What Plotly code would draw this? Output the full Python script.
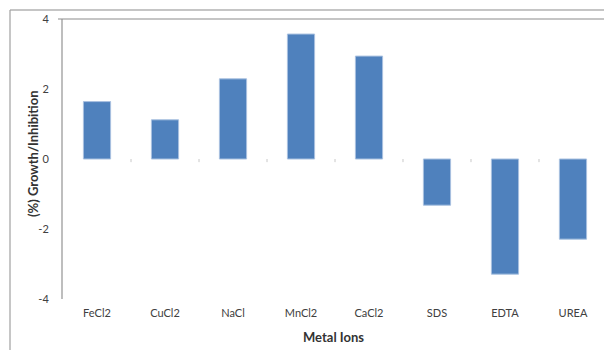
import plotly.graph_objects as go

# Effect of each additive on growth (%), positive = growth, negative = inhibition
compounds = ["FeCl2", "CuCl2", "NaCl", "MnCl2", "CaCl2", "SDS", "EDTA", "UREA"]
growth_pct = [1.64, 1.12, 2.29, 3.57, 2.94, -1.32, -3.29, -2.29]

y_tick_vals = [-4, -2, 0, 2, 4]
y_tick_text = ["-4", "-2", "0", "2", "4"]

W, H = 604, 350
ML, MR, MT, MB = 63, 0, 19, 51
PW = W - ML - MR
PH = H - MT - MB


def px_x(px):
    return (px - ML) / PW


def px_y(py):
    return (H - MB - py) / PH


FONT = "Lato, 'Open Sans', sans-serif"
BAR = "#4F81BD"

fig = go.Figure(
    go.Bar(
        x=compounds,
        y=growth_pct,
        marker=dict(color=BAR, line=dict(color="#A9C1E0", width=1)),
        width=0.4,
    )
)

shapes = []
# small category separators along the zero line
for i in range(len(compounds) - 1):
    shapes.append(dict(
        type="line", xref="x", yref="y",
        x0=i + 0.5, x1=i + 0.5, y0=0, y1=-0.09,
        line=dict(color="#C8C8C8", width=1),
    ))
# plot top rule with tick at 4
shapes.append(dict(type="line", xref="paper", yref="paper",
                   x0=px_x(58), x1=1.0, y0=1, y1=1,
                   line=dict(color="#8C8C8C", width=1.2)))
# outer chart frame
shapes.append(dict(type="line", xref="paper", yref="paper",
                   x0=px_x(10), x1=1.0, y0=px_y(10), y1=px_y(10),
                   line=dict(color="#8C8C8C", width=1.2)))
shapes.append(dict(type="line", xref="paper", yref="paper",
                   x0=px_x(10), x1=px_x(10), y0=px_y(10), y1=px_y(352),
                   line=dict(color="#A0A0A0", width=1.2)))

fig.update_layout(
    width=W, height=H,
    margin=dict(l=ML, r=MR, t=MT, b=MB),
    paper_bgcolor="white",
    plot_bgcolor="white",
    showlegend=False,
    font=dict(family=FONT, size=11, color="#404040"),
    shapes=shapes,
    annotations=[dict(
        text="<b>(%) Growth/Inhibition</b>",
        xref="paper", yref="paper",
        x=px_x(33), y=px_y(154),
        xanchor="center", yanchor="middle",
        textangle=-90, showarrow=False,
        font=dict(size=13, color="#333333"),
    )],
    xaxis=dict(
        range=[-0.5, 7.456],
        showgrid=False, zeroline=False, showline=False,
        ticks="", tickfont=dict(size=11, color="#404040"),
        ticklabelstandoff=6,
        title=dict(text="<b>Metal Ions</b>", font=dict(size=13, color="#333333"), standoff=14),
    ),
    yaxis=dict(
        range=[-4, 4],
        tickvals=y_tick_vals, ticktext=y_tick_text,
        showgrid=False, zeroline=False,
        showline=True, linecolor="#BEBEBE", linewidth=2,
        ticks="", tickfont=dict(size=11, color="#404040"),
        ticklabelstandoff=10,
    ),
)

fig.write_html("out.html")
